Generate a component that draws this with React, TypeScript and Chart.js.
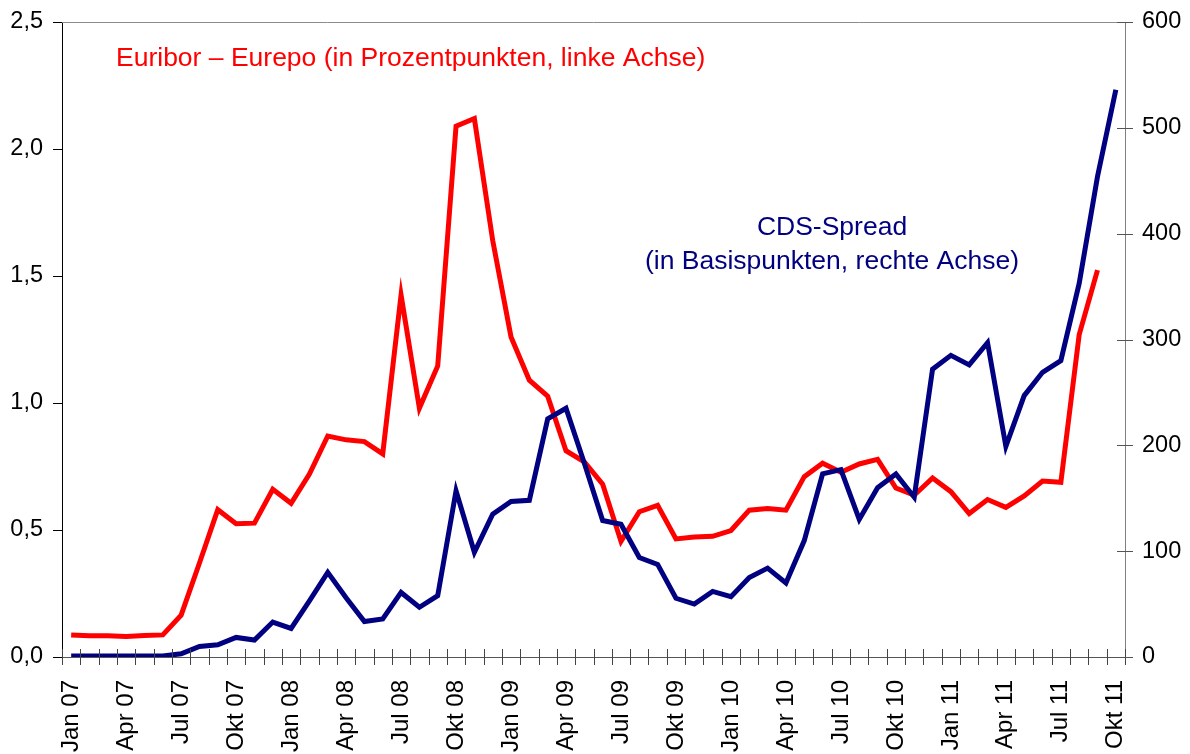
import React, { useEffect, useRef } from "react";
import { Chart, registerables } from "chart.js";

Chart.register(...registerables);

const monthNames = ["Jan", "Feb", "Mär", "Apr", "Mai", "Jun", "Jul", "Aug", "Sep", "Okt", "Nov", "Dez"];
const years = ["07", "08", "09", "10", "11"];
const categories: string[] = [];
for (const y of years) {
  for (const m of monthNames) {
    categories.push(m + " " + y);
  }
}
const labels = categories.slice(0, 58); // Jan 07 .. Okt 11

const euriborEurepo: (number | null)[] = [
  0.087, 0.084, 0.084, 0.081, 0.085, 0.087, 0.165, 0.37, 0.58, 0.525, 0.527, 0.66,
  0.605, 0.72, 0.87, 0.855, 0.848, 0.8, 1.425, 0.98, 1.146, 2.09, 2.12, 1.64,
  1.26, 1.09, 1.027, 0.812, 0.768, 0.68, 0.455, 0.572, 0.597, 0.465, 0.472, 0.475,
  0.498, 0.578, 0.585, 0.578, 0.71, 0.763, 0.727, 0.76, 0.778, 0.665, 0.637, 0.705,
  0.651, 0.565, 0.62, 0.589, 0.634, 0.693, 0.688, 1.269, 1.523, null,
];

const cdsSpread: number[] = [
  1, 1, 1, 1, 1, 1, 3, 10, 11.5, 18.5, 16, 33,
  27, 53, 80, 56, 33.5, 36, 61, 47, 58, 157, 99, 135,
  147, 148, 225, 235, 183, 129, 125.5, 94, 87.5, 55.5, 50, 62,
  57, 75, 84, 70, 110, 173, 177, 130, 160, 173, 151, 272,
  285, 276, 297, 199, 247, 269, 280, 353, 454, 536,
];

const leftTicks = [0, 0.5, 1.0, 1.5, 2.0, 2.5];
const rightTicks = [0, 100, 200, 300, 400, 500, 600];

const titleRed = "Euribor – Eurepo (in Prozentpunkten, linke Achse)";
const titleBlue1 = "CDS-Spread";
const titleBlue2 = "(in Basispunkten, rechte Achse)";

const FONT = "'Liberation Sans', Arial, sans-serif";

const decoPlugin = {
  id: "deco",
  afterDatasetsDraw(chart: any) {
    const ctx = chart.ctx;
    const { left, right, top, bottom } = chart.chartArea;
    const ys = chart.scales.y;
    const yr = chart.scales.y1;
    ctx.save();
    // top border
    ctx.strokeStyle = "#8c8c8c";
    ctx.lineWidth = 1;
    ctx.beginPath();
    ctx.moveTo(left, Math.round(top) + 0.5);
    ctx.lineTo(right, Math.round(top) + 0.5);
    ctx.stroke();
    // x ticks crossing axis
    ctx.strokeStyle = "#444";
    const n = labels.length;
    ctx.beginPath();
    for (let i = 0; i <= n; i++) {
      const x = Math.round(left + (i * (right - left)) / n) + 0.5;
      ctx.moveTo(x, bottom - 8);
      ctx.lineTo(x, bottom + 8);
    }
    ctx.stroke();
    // left ticks
    ctx.strokeStyle = "#000";
    ctx.beginPath();
    for (const v of leftTicks) {
      const y = Math.round(ys.getPixelForValue(v)) + 0.5;
      ctx.moveTo(left - 9, y);
      ctx.lineTo(left, y);
    }
    ctx.stroke();
    // right ticks crossing
    ctx.strokeStyle = "#555";
    ctx.beginPath();
    for (const v of rightTicks) {
      const y = Math.round(yr.getPixelForValue(v)) + 0.5;
      ctx.moveTo(right - 8, y);
      ctx.lineTo(right + 8, y);
    }
    ctx.stroke();
    ctx.restore();

    // annotations
    ctx.save();
    ctx.font = "26.5px " + FONT;
    ctx.textBaseline = "alphabetic";
    ctx.fillStyle = "#ff0000";
    ctx.textAlign = "left";
    ctx.fillText(titleRed, 116, 66);
    ctx.fillStyle = "#000080";
    ctx.textAlign = "center";
    ctx.fillText(titleBlue1, 832, 235);
    ctx.fillText(titleBlue2, 832, 269);
    ctx.restore();
  },
};

const fitVertical = (w: number) => (scale: any) => {
  scale.width = w;
  scale.paddingTop = 0;
  scale.paddingBottom = 0;
};

export default function App() {
  const canvasRef = useRef<HTMLCanvasElement | null>(null);

  useEffect(() => {
    const canvas = canvasRef.current;
    if (!canvas) return;
    const chart = new Chart(canvas, {
      type: "line",
      data: {
        labels,
        datasets: [
          {
            label: "CDS-Spread",
            data: cdsSpread,
            yAxisID: "y1",
            borderColor: "#000080",
            backgroundColor: "#000080",
            borderWidth: 5,
            pointRadius: 0,
            tension: 0,
            fill: false,
          },
          {
            label: "Euribor – Eurepo",
            data: euriborEurepo,
            yAxisID: "y",
            borderColor: "#ff0000",
            backgroundColor: "#ff0000",
            borderWidth: 5,
            pointRadius: 0,
            tension: 0,
            fill: false,
            spanGaps: false,
          },
        ],
      },
      options: {
        responsive: false,
        animation: false,
        maintainAspectRatio: false,
        layout: { padding: { top: 22, left: 0, right: 0, bottom: 0 } },
        plugins: {
          legend: { display: false },
          tooltip: { enabled: false },
        },
        scales: {
          x: {
            type: "category",
            offset: true,
            grid: { display: false, drawTicks: false },
            border: { display: true, color: "#555", width: 1 },
            afterFit: (scale: any) => {
              scale.height = 97;
            },
            ticks: {
              autoSkip: false,
              maxRotation: 90,
              minRotation: 90,
              padding: 23,
              color: "#000",
              font: { family: FONT, size: 24 },
              callback: (_v: any, i: number) => (i % 3 === 0 ? labels[i] : ""),
            },
          },
          y: {
            position: "left",
            min: 0,
            max: 2.5,
            grid: { display: false, drawTicks: false },
            border: { display: true, color: "#000", width: 1 },
            afterFit: fitVertical(62),
            ticks: {
              stepSize: 0.5,
              padding: 19,
              color: "#000",
              font: { family: FONT, size: 23.5 },
              callback: (v: any) => Number(v).toFixed(1).replace(".", ","),
            },
          },
          y1: {
            position: "right",
            min: 0,
            max: 600,
            grid: { display: false, drawTicks: false },
            border: { display: true, color: "#808080", width: 1 },
            afterFit: fitVertical(65),
            ticks: {
              stepSize: 100,
              padding: 17,
              color: "#000",
              font: { family: FONT, size: 23.5 },
            },
          },
        },
      },
      plugins: [decoPlugin],
    });
    return () => {
      chart.destroy();
    };
  }, []);

  return (
    <div
      style={{
        position: "fixed",
        left: 0,
        top: 0,
        width: 1190,
        height: 754,
        overflow: "hidden",
        background: "#fff",
      }}
    >
      <canvas ref={canvasRef} width={1190} height={754} style={{ width: 1190, height: 754, display: "block" }} />
    </div>
  );
}
